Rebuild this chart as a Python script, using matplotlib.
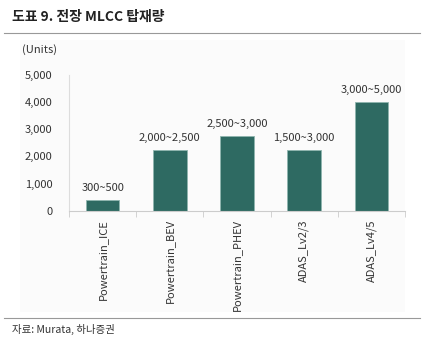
import matplotlib.pyplot as plt
from matplotlib.lines import Line2D

plt.rcParams['font.family'] = ['Noto Sans CJK KR', 'DejaVu Sans']

categories = ['Powertrain_ICE', 'Powertrain_BEV', 'Powertrain_PHEV', 'ADAS_Lv2/3', 'ADAS_Lv4/5']
values = [400, 2250, 2750, 2250, 4000]
range_labels = ['300~500', '2,000~2,500', '2,500~3,000', '1,500~3,000', '3,000~5,000']
yticks = [0, 1000, 2000, 3000, 4000, 5000]

fig = plt.figure(figsize=(4.34, 3.5), dpi=100)
fig.patch.set_facecolor('white')

# light panel behind the chart
fig.patches.append(plt.Rectangle((20 / 434, 1 - 312 / 350), 385 / 434, 272 / 350,
                                 transform=fig.transFigure, facecolor='#fbfbfb',
                                 edgecolor='none', zorder=-5))

ax = fig.add_axes([69 / 434, 1 - 210.7 / 350, 336 / 434, 135.7 / 350])
ax.set_facecolor('none')

x = range(len(categories))
bars = ax.bar(x, values, width=0.5, color='#2e6a62', edgecolor='#8fb5ae', linewidth=0.6)

for b, lab in zip(bars, range_labels):
    ax.annotate(lab, (b.get_x() + b.get_width() / 2, b.get_height()),
                xytext=(0, 5), textcoords='offset points', ha='center', va='bottom',
                fontsize=8, color='#333333')

ax.set_xlim(-0.5, len(categories) - 0.5)
ax.set_ylim(0, 5000)
ax.set_yticks(yticks)
ax.set_yticklabels([f'{v:,}' for v in yticks])
ax.set_xticks(list(x))
ax.set_xticklabels(categories, rotation=90, fontsize=8, color='#333333')
ax.tick_params(axis='x', length=0, pad=6)
ax.tick_params(axis='y', length=0, labelsize=8, labelcolor='#333333', pad=12)
ax.set_xticks([i - 0.5 for i in range(len(categories) + 1)], minor=True)
ax.tick_params(axis='x', which='minor', length=4, color='#cccccc')

for s in ['top', 'right']:
    ax.spines[s].set_visible(False)
ax.spines['left'].set_color('#dddddd')
ax.spines['bottom'].set_color('#cccccc')

fig.text(12 / 434, 1 - 17 / 350, '도표 9. 전장 MLCC 탑재량', fontsize=10, fontweight='bold',
         va='center', ha='left', color='#222222')
fig.lines.append(Line2D([4 / 434, 420 / 434], [1 - 33 / 350, 1 - 33 / 350],
                        transform=fig.transFigure, color='#999999', linewidth=0.8))
fig.text(22 / 434, 1 - 50 / 350, '(Units)', fontsize=8, va='center', ha='left', color='#333333')
fig.lines.append(Line2D([4 / 434, 420 / 434], [1 - 318 / 350, 1 - 318 / 350],
                        transform=fig.transFigure, color='#999999', linewidth=0.8))
fig.text(12 / 434, 1 - 329 / 350, '자료: Murata, 하나증권', fontsize=7.5, va='center', ha='left',
         color='#333333')

fig.savefig('out.png', dpi=100)
